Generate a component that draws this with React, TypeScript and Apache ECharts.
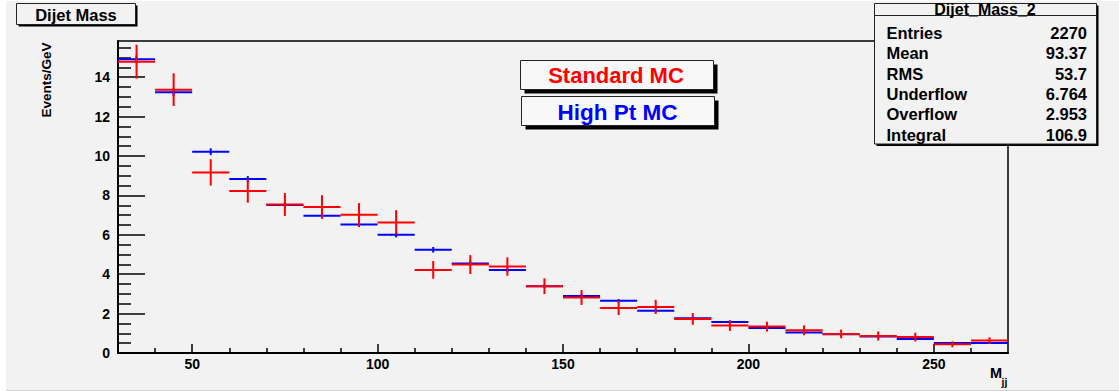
import React, { useEffect, useRef } from "react";
import * as echarts from "echarts";

const binStarts = [30, 40, 50, 60, 70, 80, 90, 100, 110, 120, 130, 140, 150, 160, 170, 180, 190, 200, 210, 220, 230, 240, 250, 260];
const binWidth = 10;
const standardValues = [14.79, 13.37, 9.17, 8.23, 7.54, 7.41, 7.02, 6.63, 4.22, 4.49, 4.39, 3.39, 2.82, 2.29, 2.34, 1.73, 1.39, 1.34, 1.15, 0.97, 0.86, 0.81, 0.44, 0.63];
const standardErrors = [0.86, 0.83, 0.67, 0.6, 0.58, 0.6, 0.59, 0.62, 0.45, 0.48, 0.47, 0.4, 0.38, 0.36, 0.36, 0.3, 0.27, 0.25, 0.25, 0.22, 0.23, 0.22, 0.15, 0.17];
const highPtValues = [14.91, 13.24, 10.22, 8.83, 7.51, 6.97, 6.53, 6.0, 5.24, 4.55, 4.22, 3.39, 2.9, 2.65, 2.15, 1.77, 1.58, 1.27, 1.04, 0.95, 0.84, 0.71, 0.51, 0.51];
const highPtErrors = [0.2, 0.19, 0.17, 0.15, 0.14, 0.13, 0.13, 0.13, 0.14, 0.12, 0.11, 0.1, 0.09, 0.09, 0.08, 0.08, 0.07, 0.07, 0.06, 0.06, 0.05, 0.05, 0.04, 0.04];

const xMajorTicks = [50, 100, 150, 200, 250];
const xMinorTicks = [40, 60, 70, 80, 90, 110, 120, 130, 140, 160, 170, 180, 190, 210, 220, 230, 240, 260];
const yMajorTicks = [0, 2, 4, 6, 8, 10, 12, 14];
const yMinorTicks = [0.5, 1, 1.5, 2.5, 3, 3.5, 4.5, 5, 5.5, 6.5, 7, 7.5, 8.5, 9, 9.5, 10.5, 11, 11.5, 12.5, 13, 13.5, 14.5, 15, 15.5];

const statsLabels = ["Entries", "Mean", "RMS", "Underflow", "Overflow", "Integral"];
const statsValues = ["2270", "93.37", "53.7", "6.764", "2.953", "106.9"];

const FONT = '"Liberation Sans", Arial, Helvetica, sans-serif';

function makeRows(values: number[], errors: number[]) {
  return binStarts.map((s, i) => [s, s + binWidth, values[i], errors[i]]);
}

function renderHist(color: string) {
  return (params: any, api: any) => {
    const x0 = api.value(0);
    const x1 = api.value(1);
    const y = api.value(2);
    const e = api.value(3);
    const pL = api.coord([x0, y]);
    const pR = api.coord([x1, y]);
    const xc = (x0 + x1) / 2;
    const pT = api.coord([xc, y + e]);
    const pB = api.coord([xc, Math.max(0, y - e)]);
    return {
      type: "group",
      children: [
        { type: "line", shape: { x1: pL[0], y1: pL[1], x2: pR[0], y2: pR[1] }, style: { stroke: color, lineWidth: 2 } },
        { type: "line", shape: { x1: pT[0], y1: pT[1], x2: pB[0], y2: pB[1] }, style: { stroke: color, lineWidth: 2 } },
      ],
    };
  };
}

function txt(x: number, y: number, text: string, size: number, color: string, align: string, valign: string, extra: any = {}) {
  return {
    type: "text",
    x,
    y,
    z: 100,
    ...extra,
    style: {
      text,
      fontSize: size,
      fontWeight: "bold",
      fontFamily: FONT,
      fill: color,
      align,
      verticalAlign: valign,
      textAlign: align,
      textVerticalAlign: valign,
    },
  };
}

function boxWithShadow(x: number, y: number, w: number, h: number, off: number, fill: string) {
  return [
    { type: "rect", z: 100, shape: { x: x + off, y: y + off, width: w, height: h }, style: { fill: "#000" } },
    { type: "rect", z: 101, shape: { x, y, width: w, height: h }, style: { fill, stroke: "#222", lineWidth: 1 } },
  ];
}

export default function App() {
  const ref = useRef<HTMLDivElement>(null);
  useEffect(() => {
    if (!ref.current) return;
    const chart = echarts.init(ref.current, undefined, { renderer: "svg" });
    const statsX = 874.5;
    const statsRowsY = [33, 53, 73.5, 94, 113.5, 134.5];
    const graphics: any[] = [
      { type: "rect", z: -10, silent: true, shape: { x: 6, y: 1, width: 1113, height: 389 }, style: { fill: "#f2f2f2" } },
      { type: "rect", z: -10, silent: true, shape: { x: 6, y: 390, width: 1113, height: 1 }, style: { fill: "#d2d2d2" } },
      ...boxWithShadow(16.5, 3.5, 119, 21, 2, "#f2f2f2"),
      txt(76, 14.5, "Dijet Mass", 16.5, "#000", "center", "middle", { z: 110 }),
      ...boxWithShadow(520.5, 60.5, 193, 29, 4, "#f8f8f8"),
      txt(616, 75.5, "Standard MC", 22, "#ff0000", "center", "middle", { z: 110 }),
      ...boxWithShadow(521.5, 96.5, 193, 29, 4, "#f8f8f8"),
      txt(617.5, 112, "High Pt MC", 22.5, "#0000ff", "center", "middle", { z: 110 }),
      ...boxWithShadow(statsX, 3.5, 222, 140.5, 2, "#f2f2f2"),
      { type: "line", z: 110, shape: { x1: statsX, y1: 15.5, x2: statsX + 222, y2: 15.5 }, style: { stroke: "#222", lineWidth: 1 } },
      txt(985, 9, "Dijet_Mass_2", 16, "#000", "center", "middle", { z: 110 }),
      ...statsLabels.map((l, i) => txt(886.5, statsRowsY[i], l, 16.5, "#000", "left", "middle", { z: 110 })),
      ...statsValues.map((v, i) => txt(1087, statsRowsY[i], v, 16.5, "#000", "right", "middle", { z: 110 })),
      txt(46, 42.5, "Events/GeV", 13.5, "#000", "right", "middle", { rotation: Math.PI / 2, z: 110 }),
      txt(990, 373, "M", 14.5, "#000", "left", "middle", { z: 110 }),
      txt(1001.5, 382, "jj", 10.5, "#000", "left", "middle", { z: 110 }),
    ];
    const axisLabelStyle = { color: "#000", fontSize: 14, fontWeight: "bold", fontFamily: FONT };
    chart.setOption({
      animation: false,
      backgroundColor: "transparent",
      grid: { left: 118, top: 41, width: 890, height: 312, show: true, borderColor: "#000", borderWidth: 1.5, backgroundColor: "transparent" },
      xAxis: [
        {
          type: "value", min: 30, max: 270, position: "bottom",
          axisLine: { show: true, onZero: false, lineStyle: { color: "#000", width: 2 } },
          axisTick: { show: true, inside: true, length: 9, customValues: xMajorTicks, lineStyle: { color: "#000", width: 1.5 } },
          axisLabel: { show: true, customValues: xMajorTicks, margin: 4, ...axisLabelStyle },
          splitLine: { show: false },
        },
        {
          type: "value", min: 30, max: 270, position: "bottom",
          axisLine: { show: false },
          axisTick: { show: true, inside: true, length: 5, customValues: xMinorTicks, lineStyle: { color: "#000", width: 1.5 } },
          axisLabel: { show: false },
          splitLine: { show: false },
        },
      ],
      yAxis: [
        {
          type: "value", min: 0, max: 15.84, position: "left",
          axisLine: { show: true, onZero: false, lineStyle: { color: "#000", width: 2 } },
          axisTick: { show: true, inside: true, length: 27, customValues: yMajorTicks, lineStyle: { color: "#000", width: 1.5 } },
          axisLabel: { show: true, customValues: yMajorTicks, margin: 8, ...axisLabelStyle },
          splitLine: { show: false },
        },
        {
          type: "value", min: 0, max: 15.84, position: "left",
          axisLine: { show: false },
          axisTick: { show: true, inside: true, length: 13, customValues: yMinorTicks, lineStyle: { color: "#000", width: 1.5 } },
          axisLabel: { show: false },
          splitLine: { show: false },
        },
      ],
      series: [
        {
          name: "High Pt MC", type: "custom", xAxisIndex: 0, yAxisIndex: 0,
          renderItem: renderHist("#0000ff"),
          data: makeRows(highPtValues, highPtErrors), z: 2,
        },
        {
          name: "Standard MC", type: "custom", xAxisIndex: 0, yAxisIndex: 0,
          renderItem: renderHist("#ff0000"),
          data: makeRows(standardValues, standardErrors), z: 3,
        },
      ],
      graphic: graphics,
    });
    return () => chart.dispose();
  }, []);
  return <div ref={ref} style={{ position: "absolute", left: 0, top: 0, width: 1119, height: 391, background: "#fff" }} />;
}
